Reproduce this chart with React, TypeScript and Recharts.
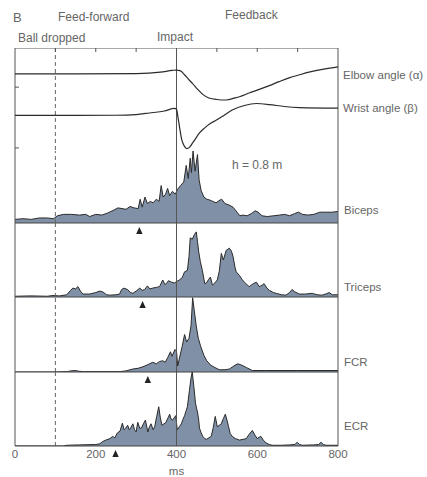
import React from 'react';
import { ComposedChart, Area, Line, XAxis, YAxis, ReferenceLine, ReferenceDot } from 'recharts';

// ---- data (time in ms, value in arbitrary units) ----
const elbowAngle = [
  [0, 74.8], [150, 74.8], [300, 75.2], [360, 76.5], [390, 78.3], [400, 78.6], [410, 77.8], [420, 74], [430, 69.5],
  [440, 65.5], [452, 60], [465, 55], [480, 51.5], [500, 50], [523, 49.5], [545, 51.5], [556, 52.7], [580, 56.3],
  [605, 59.8], [630, 63.5], [654, 67.3], [679, 71], [705, 74], [728, 76.5], [765, 79.5], [800, 81.6],
];
const wristAngle = [
  [0, 34.5], [150, 34.5], [250, 34.7], [300, 35.4], [333, 36.9], [370, 38.8], [395, 41.3], [400, 40.5], [404, 32],
  [408, 22], [413, 11], [419, 5], [425, 2.4], [432, 3.5], [440, 7.8], [448, 12.5], [457, 17.5], [470, 22.5],
  [481, 26], [499, 30], [519, 35], [538, 39.8], [568, 44.2], [598, 46.1], [630, 45.1], [667, 43.2], [704, 42.2],
  [800, 41.7],
];
const biceps = [
  [0, 5], [20, 6], [40, 5], [60, 7], [80, 7], [95, 6], [105, 10], [120, 12], [140, 12], [160, 11], [175, 12],
  [185, 9], [200, 12], [215, 11], [230, 14], [245, 18], [255, 21], [265, 20], [275, 19], [285, 23], [295, 21],
  [305, 20], [310, 33], [315, 22], [322, 36], [328, 27], [335, 30], [342, 28], [350, 33], [357, 30], [362, 52],
  [367, 36], [373, 40], [378, 48], [383, 38], [390, 44], [397, 40], [403, 47], [410, 52], [418, 57], [424, 80],
  [429, 62], [434, 90], [437, 70], [441, 100], [446, 72], [452, 95], [456, 60], [461, 45], [468, 36], [475, 33],
  [482, 32], [490, 30], [498, 28], [505, 31], [512, 33], [520, 27], [530, 25], [540, 22], [550, 15], [557, 10],
  [565, 11], [575, 10], [585, 13], [595, 17], [602, 15], [612, 10], [625, 9], [640, 10], [655, 11], [668, 12],
  [680, 10], [692, 13], [702, 15], [712, 12], [725, 11], [740, 12], [755, 15], [770, 15], [785, 15], [800, 16],
];
const triceps = [
  [0, 1], [40, 1.5], [80, 1], [94, 2], [110, 1.5], [128, 3], [138, 9], [143, 12], [150, 11], [156, 14], [162, 8],
  [168, 4], [185, 4], [200, 6], [210, 8], [217, 7], [227, 3], [235, 2.5], [250, 3], [259, 4], [264, 10], [270, 12],
  [279, 10], [286, 6], [292, 5], [300, 8], [309, 12], [315, 9], [321, 10], [328, 15], [334, 11], [341, 12],
  [350, 13], [358, 14], [366, 23], [371, 17], [375, 18], [380, 22], [388, 20], [395, 19], [401, 21], [407, 23],
  [414, 26], [420, 34], [427, 36], [431, 55], [434, 80], [439, 78], [444, 84], [449, 88], [452, 75], [455, 61],
  [459, 48], [464, 36], [470, 18], [474, 19], [480, 24], [484, 27], [489, 16], [495, 19], [501, 23], [506, 35],
  [511, 59], [516, 50], [523, 63], [531, 66], [536, 62], [540, 55], [545, 40], [548, 34], [556, 29], [562, 24],
  [568, 20], [574, 17], [580, 14], [590, 18], [598, 20], [605, 14], [612, 16], [617, 18], [624, 12], [630, 9],
  [640, 6], [647, 5], [660, 3], [671, 2.5], [680, 6], [686, 10], [693, 7], [704, 4], [720, 4], [736, 5], [748, 3],
  [760, 2.5], [770, 4], [778, 6], [786, 3], [800, 3],
];
const fcr = [
  [0, 0], [100, 0], [130, 0.5], [138, 1.5], [150, 2], [158, 1], [170, 0.5], [260, 0.5], [275, 1.5], [292, 4],
  [305, 5], [317, 7], [330, 10], [341, 13], [350, 11], [358, 14], [366, 15], [372, 13], [378, 19], [385, 27],
  [389, 21], [396, 30], [400, 28], [403, 8], [408, 20], [414, 34], [420, 50], [425, 40], [431, 45], [436, 62],
  [440, 99], [444, 82], [449, 61], [454, 45], [460, 34], [468, 22], [475, 15], [485, 9], [495, 6], [506, 3],
  [520, 3], [531, 4], [545, 9], [552, 11], [562, 9], [573, 6], [588, 2], [620, 2], [700, 2], [800, 2],
];
const ecr = [
  [0, 0], [120, 0], [128, 1], [160, 1.5], [200, 2], [210, 3], [217, 6], [225, 8], [235, 10], [242, 13], [247, 11],
  [254, 18], [260, 20], [266, 31], [270, 22], [274, 24], [279, 28], [283, 22], [286, 24], [292, 30], [296, 22],
  [300, 19], [304, 32], [309, 24], [313, 24], [318, 30], [323, 35], [329, 19], [333, 26], [337, 30], [342, 22],
  [346, 26], [351, 40], [356, 53], [360, 38], [364, 28], [369, 30], [374, 32], [379, 38], [383, 43], [387, 36],
  [390, 35], [394, 38], [398, 41], [402, 22], [407, 26], [412, 30], [416, 36], [420, 41], [424, 48], [427, 53],
  [432, 75], [436, 92], [439, 100], [443, 80], [447, 58], [450, 50], [452, 46], [455, 35], [457, 24], [461, 18],
  [465, 13], [470, 10], [474, 9], [480, 11], [486, 13], [491, 25], [496, 40], [501, 26], [506, 28], [511, 30],
  [516, 37], [521, 43], [525, 35], [529, 26], [533, 17], [538, 13], [546, 10], [556, 8], [565, 9], [573, 10],
  [580, 16], [588, 21], [594, 15], [600, 10], [605, 12], [609, 13], [615, 8], [622, 4], [630, 2], [637, 1],
  [660, 1], [680, 1.5], [693, 2], [699, 5], [705, 2], [711, 1], [740, 1.5], [752, 2], [758, 5], [764, 2],
  [770, 1], [800, 1],
];
const onsets = [308, 316, 329, 249]; // biceps, triceps, FCR, ECR (arrowheads)
const xTicks = [0, 200, 400, 600, 800];
const topTicks = [100, 200, 300, 400, 500, 600, 700];
const leftAngleTicks = [3, 62];
const rightAngleTicks = [5, 30, 70];
const ballDroppedMs = 100;
const impactMs = 400;

const toPts = (a: number[][]) => a.map(([t, v]) => ({ t, v }));

// ---- styling / geometry ----
const W = 427;
const ML = 15;
const MR = 89;
const FRAME = '#555';
const TRACE = '#2b2b2b';
const FILL = '#8090a6';
const TXT = '#666';
const FONT = '"Liberation Sans", Arial, sans-serif';

const Empty = () => <g />;

const Tri = (p: any) => {
  const { cx, cy } = p;
  return <path d={`M${cx},${cy + 4} L${cx + 3.2},${cy + 11} L${cx - 3.2},${cy + 11} Z`} fill="#222" />;
};

function Frame(yId?: string) {
  const y = yId ? { yAxisId: yId } : {};
  return [
    <ReferenceLine key="l" x={0} stroke={FRAME} strokeWidth={1} {...y} />,
    <ReferenceLine key="r" x={800} stroke={FRAME} strokeWidth={1} {...y} />,
    <ReferenceLine key="d" x={ballDroppedMs} stroke="#666" strokeWidth={1} strokeDasharray="4 3" {...y} />,
    <ReferenceLine key="i" x={impactMs} stroke={FRAME} strokeWidth={1} {...y} />,
  ];
}

function EmgPanel({ raw, top, band, onset, last }: { raw: number[][]; top: number; band: number; onset: number; last?: boolean }) {
  const data = toPts(raw);
  const pad = last ? 31 : 14;
  return (
    <div style={{ position: 'absolute', left: 0, top }}>
      <ComposedChart width={W} height={band + pad} data={data} margin={{ top: 0, right: MR, bottom: last ? 0 : pad, left: ML }}>
        {last ? (
          <XAxis
            type="number"
            dataKey="t"
            domain={[0, 800]}
            ticks={xTicks}
            interval={0}
            tickLine={false}
            axisLine={false}
            tickSize={2}
            tickMargin={2}
            height={31}
            tick={{ fill: TXT, fontSize: 11.5, fontFamily: FONT }}
            label={{ value: 'ms', position: 'insideBottom', offset: 2, fill: TXT, fontSize: 11.5, fontFamily: FONT }}
          />
        ) : (
          <XAxis type="number" dataKey="t" domain={[0, 800]} hide />
        )}
        <YAxis type="number" domain={[0, 100]} hide allowDataOverflow />
        <Area
          type="linear"
          dataKey="v"
          stroke={TRACE}
          strokeWidth={1}
          fill={FILL}
          fillOpacity={1}
          baseValue={0}
          dot={false}
          activeDot={false}
          isAnimationActive={false}
        />
        {Frame()}
        <ReferenceLine y={0} stroke="#444" strokeWidth={1} />
        <ReferenceDot x={onset} y={0} r={2} shape={Tri} ifOverflow="visible" />
      </ComposedChart>
    </div>
  );
}

function Txt({ x, y, children, size = 12, color = TXT }: { x: number; y: number; children: React.ReactNode; size?: number; color?: string }) {
  const lh = Math.round(size * 1.2);
  return (
    <div
      style={{
        position: 'absolute',
        left: x,
        top: y - lh / 2,
        fontSize: size,
        lineHeight: `${lh}px`,
        color,
        whiteSpace: 'nowrap',
        fontFamily: FONT,
      }}
    >
      {children}
    </div>
  );
}

export default function App() {
  return (
    <div style={{ position: 'absolute', left: 0, top: 0, width: W, height: 477, overflow: 'hidden', background: '#fff' }}>
      {/* angle panel */}
      <div style={{ position: 'absolute', left: 0, top: 48 }}>
        <ComposedChart width={W} height={103} margin={{ top: 0, right: MR, bottom: 0, left: ML }}>
          <XAxis
            type="number"
            dataKey="t"
            domain={[0, 800]}
            orientation="top"
            mirror
            ticks={topTicks}
            interval={0}
            tickSize={4}
            tick={Empty}
            axisLine={{ stroke: FRAME }}
            tickLine={{ stroke: FRAME }}
          />
          <YAxis yAxisId="l" type="number" domain={[0, 100]} mirror ticks={leftAngleTicks} interval={0} tickSize={4} tick={Empty} axisLine={false} tickLine={{ stroke: FRAME }} />
          <YAxis yAxisId="r" orientation="right" type="number" domain={[0, 100]} mirror ticks={rightAngleTicks} interval={0} tickSize={4} tick={Empty} axisLine={false} tickLine={{ stroke: FRAME }} />
          {Frame('l')}
          <Line yAxisId="l" data={toPts(elbowAngle)} dataKey="v" type="monotone" stroke={TRACE} strokeWidth={1.2} dot={false} activeDot={false} isAnimationActive={false} />
          <Line yAxisId="l" data={toPts(wristAngle)} dataKey="v" type="monotone" stroke={TRACE} strokeWidth={1.2} dot={false} activeDot={false} isAnimationActive={false} />
        </ComposedChart>
      </div>

      <EmgPanel raw={biceps} top={151} band={72} onset={onsets[0]} />
      <EmgPanel raw={triceps} top={223} band={74} onset={onsets[1]} />
      <EmgPanel raw={fcr} top={297} band={75} onset={onsets[2]} />
      <EmgPanel raw={ecr} top={372} band={74} onset={onsets[3]} last />

      <Txt x={13} y={18} size={13}>B</Txt>
      <Txt x={58} y={17}>Feed-forward</Txt>
      <Txt x={225} y={15}>Feedback</Txt>
      <Txt x={18} y={38}>Ball dropped</Txt>
      <Txt x={157} y={37}>Impact</Txt>
      <Txt x={232} y={165}>h = 0.8 m</Txt>

      <Txt x={343} y={75} size={11.5}>Elbow angle (α)</Txt>
      <Txt x={343} y={108} size={11.5}>Wrist angle (β)</Txt>
      <Txt x={344} y={210} size={11.5}>Biceps</Txt>
      <Txt x={344} y={287} size={11.5}>Triceps</Txt>
      <Txt x={344} y={362} size={11.5}>FCR</Txt>
      <Txt x={344} y={426} size={11.5}>ECR</Txt>
    </div>
  );
}
